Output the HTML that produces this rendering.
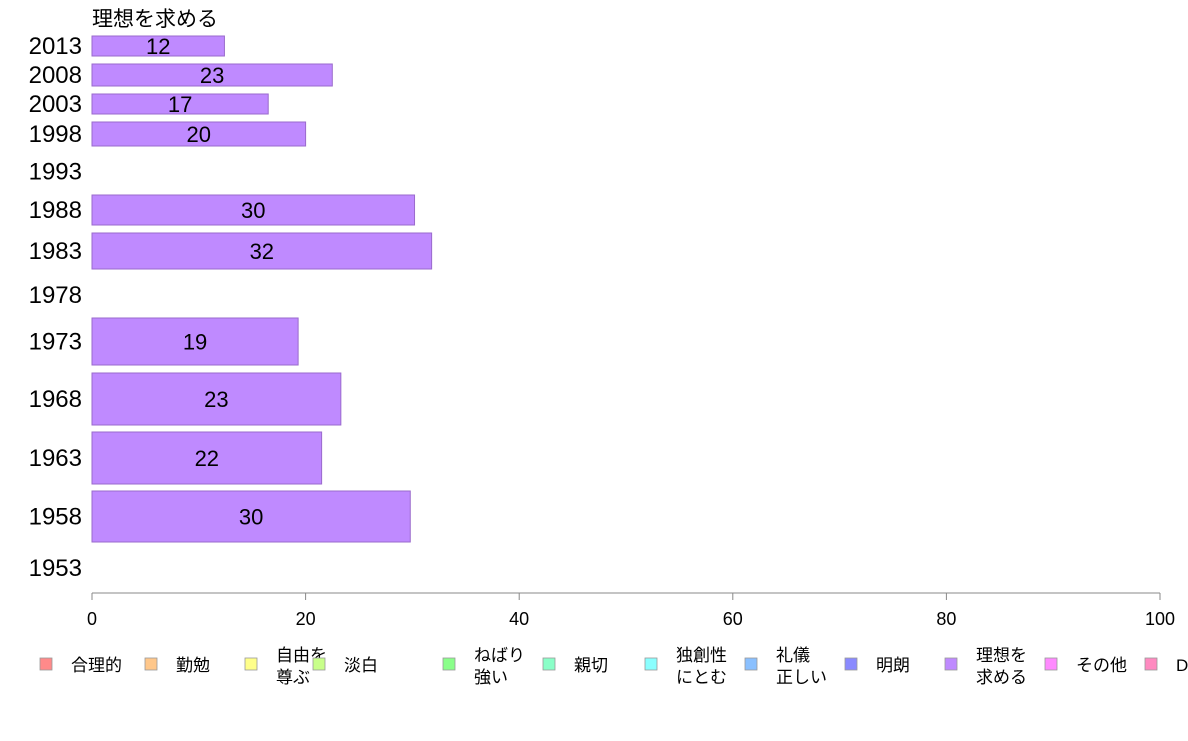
<!DOCTYPE html>
<html><head><meta charset="utf-8">
<style>
body{margin:0;background:#fff;}
svg text{font-family:"Liberation Sans","Noto Sans CJK JP",sans-serif;}
</style></head>
<body>
<svg id="chart" width="1188" height="736" xmlns="http://www.w3.org/2000/svg">
<text x="92" y="26" font-size="21" fill="#000">理想を求める</text>
<g id="bars"></g>
<g id="axis"></g>
<g id="legend"></g>
</svg>
<script>
const years=["2013","2008","2003","1998","1993","1988","1983","1978","1973","1968","1963","1958","1953"];
const values=[12.4,22.5,16.5,20.0,null,30.2,31.8,null,19.3,23.3,21.5,29.8,null];
const xTicks=[0,20,40,60,80,100];
const legendLabels=[["合理的"],["勤勉"],["自由を","尊ぶ"],["淡白"],["ねばり","強い"],["親切"],["独創性","にとむ"],["礼儀","正しい"],["明朗"],["理想を","求める"],["その他"],["D"]];
const legendColors=["#ff8a8a","#ffc78a","#ffff8a","#c8ff8a","#8aff8a","#8affc8","#8affff","#8ac0ff","#8a8aff","#bf8aff","#ff8aff","#ff8ac0"];
// layout: row bands (top,bottom) in px
const bands=[[36,56],[64,86],[94,114],[122,146],[155,188],[195,225],[233,269],[278,312],[318,365],[373,425],[432,484],[491,542],[548,588]];
const NS="http://www.w3.org/2000/svg";
const x0=92,x1=1160;
const xs=v=>x0+(x1-x0)*v/100;
function mk(t,a,p){const e=document.createElementNS(NS,t);for(const k in a)e.setAttribute(k,a[k]);p.appendChild(e);return e;}
const gb=document.getElementById('bars');
years.forEach((y,i)=>{
 const [t,b]=bands[i];const cy=(t+b)/2;
 const yl=mk('text',{x:82,y:cy+8,'font-size':24,'text-anchor':'end',fill:'#000'},gb);yl.textContent=y;
 
 
 if(values[i]!=null){
  const r=mk('rect',{x:x0,y:t,width:xs(values[i])-x0,height:b-t,fill:'#bf8aff',stroke:'#9a6acc','stroke-width':1},gb);
  
  
  const vl=mk('text',{x:(x0+xs(values[i]))/2,y:cy+8,'font-size':22,'text-anchor':'middle',fill:'#000'},gb);
  vl.textContent=Math.round(values[i]);
  
  
 }
});
const ga=document.getElementById('axis');
const al=mk('line',{x1:x0,y1:593,x2:x1,y2:593,stroke:'#888','stroke-width':1},ga);


xTicks.forEach(v=>{
 const tk=mk('line',{x1:xs(v),y1:593,x2:xs(v),y2:600,stroke:'#888'},ga);
 
 
 const tl=mk('text',{x:xs(v),y:625,'font-size':18,'text-anchor':'middle',fill:'#000'},ga);
 tl.textContent=v;
 
 
});
const gl=document.getElementById('legend');
const lx=[40,145,245,313,443,543,645,745,845,945,1045,1145];
legendLabels.forEach((lab,i)=>{
 const g=mk('g',{},gl);
 
 
 mk('rect',{x:lx[i],y:658,width:12,height:12,fill:legendColors[i],stroke:'#999','stroke-width':0.8},g);
 if(lab.length===1){const t=mk('text',{x:lx[i]+31,y:671,'font-size':17,fill:'#000'},g);t.textContent=lab[0];}
 else lab.forEach((s,j)=>{const t=mk('text',{x:lx[i]+31,y:661+j*22,'font-size':17,fill:'#000'},g);t.textContent=s;});
});
</script>
</body></html>
